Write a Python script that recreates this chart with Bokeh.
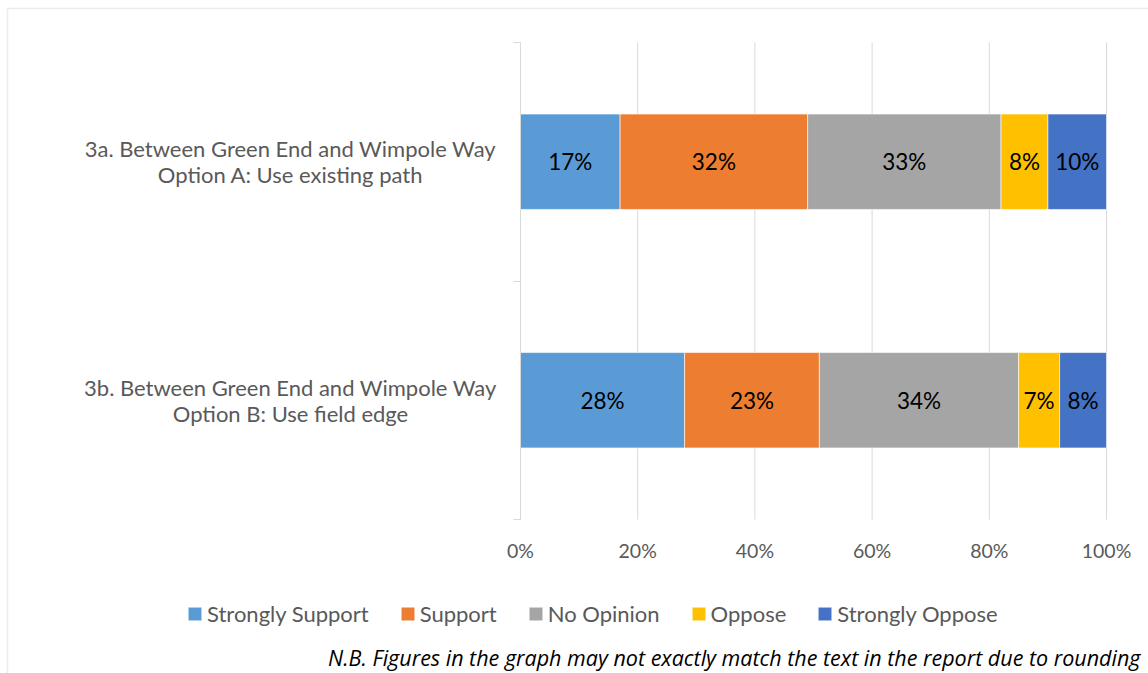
from bokeh.plotting import figure
from bokeh.models import (ColumnDataSource, FixedTicker, Label, LabelSet, BoxAnnotation,
                          Legend, LegendItem)
from bokeh.core.properties import value
from bokeh.embed import file_html
from bokeh.resources import INLINE

# ---------------- data ----------------
categories = ["3a. Between Green End and Wimpole Way\nOption A: Use existing path",
              "3b. Between Green End and Wimpole Way\nOption B: Use field edge"]
series = ["Strongly Support", "Support", "No Opinion", "Oppose", "Strongly Oppose"]
strongly_support = [17, 28]
support = [32, 23]
no_opinion = [33, 34]
oppose = [8, 7]
strongly_oppose = [10, 8]
x_ticks = [0, 20, 40, 60, 80, 100]
x_tick_labels = ["0%", "20%", "40%", "60%", "80%", "100%"]
footnote = "N.B. Figures in the graph may not exactly match the text in the report due to rounding"

# ---------------- style / layout ----------------
colors = ["#5B9BD5", "#ED7D31", "#A5A5A5", "#FFC000", "#4472C4"]
FONT = "Lato"
GRAY = "#595959"
W, H = 1148, 673
PLOT_L, PLOT_R, PLOT_T, PLOT_B = 520, 1106, 42, 519   # pixel box of the bar area
N = len(categories)
XMAX = 100.0

sx = (PLOT_R - PLOT_L) / XMAX          # px per percent
sy = (PLOT_B - PLOT_T) / N             # px per category


def px_x(px):
    return (px - PLOT_L) / sx


def px_y(py):
    return (PLOT_B - py) / sy


p = figure(width=W, height=H, output_backend="svg", toolbar_location=None,
           x_range=(px_x(0), px_x(W)), y_range=(px_y(H), px_y(0)),
           min_border=0, min_border_left=0, min_border_right=0,
           min_border_top=0, min_border_bottom=0)
p.outline_line_color = None
p.background_fill_color = "white"
p.border_fill_color = "white"
p.xgrid.visible = False
p.ygrid.visible = False

# bars (first category on top)
ypos = [N - 0.5 - i for i in range(N)]
vals = [strongly_support, support, no_opinion, oppose, strongly_oppose]
keys = ["s%d" % k for k in range(len(series))]
data = dict(y=ypos)
for k, v in zip(keys, vals):
    data[k] = v
src = ColumnDataSource(data)

# vertical gridlines spanning the category band
p.segment(x0=x_ticks, x1=x_ticks, y0=[0] * len(x_ticks), y1=[N] * len(x_ticks),
          line_color="#D9D9D9", line_width=1)

renderers = p.hbar_stack(keys, y="y", height=0.4, color=colors, source=src,
                         line_color="white", line_width=0.6)

# value labels in segments
lx, ly, lt = [], [], []
for i in range(N):
    cum = 0
    for v in vals:
        lx.append(cum + v[i] / 2)
        ly.append(ypos[i])
        lt.append(f"{v[i]}%")
        cum += v[i]
lsrc = ColumnDataSource(dict(x=lx, y=ly, t=lt))
p.add_layout(LabelSet(x="x", y="y", text="t", source=lsrc, text_align="center",
                      text_baseline="middle", text_font=value(FONT),
                      text_font_size=value("22.5px"), text_color="black"))

# axes positioned at data locations
p.xaxis.fixed_location = 0
p.xaxis.ticker = FixedTicker(ticks=x_ticks)
p.xaxis.major_label_overrides = {t: l for t, l in zip(x_ticks, x_tick_labels)}
p.xaxis.axis_line_color = None
p.xaxis.major_tick_line_color = None
p.xaxis.minor_tick_line_color = None
p.xaxis.major_label_standoff = 13
p.xaxis.major_label_text_font = FONT
p.xaxis.major_label_text_font_size = "19.5px"
p.xaxis.major_label_text_color = GRAY

p.yaxis.fixed_location = 0
p.yaxis.bounds = (0, N)
p.yaxis.ticker = FixedTicker(ticks=list(range(N + 1)))
p.yaxis.major_label_overrides = {t: "" for t in range(N + 1)}
p.yaxis.axis_line_color = "#D9D9D9"
p.yaxis.major_tick_line_color = "#D9D9D9"
p.yaxis.major_tick_in = 0
p.yaxis.major_tick_out = 7
p.yaxis.minor_tick_line_color = None

# category labels (centred multi-line)
for c, y in zip(categories, ypos):
    p.add_layout(Label(x=px_x(290), y=y, text=c, text_align="center", text_baseline="middle",
                       text_font=FONT, text_font_size="22px", text_color=GRAY,
                       text_line_height=0.98))

# legend
items = [LegendItem(label=s, renderers=[r]) for s, r in zip(series, renderers)]
legend = Legend(items=items, orientation="horizontal", location=(186, 46),
                label_text_font=FONT, label_text_font_size="22px", label_text_color=GRAY,
                glyph_width=17, glyph_height=17, spacing=30, label_standoff=4,
                border_line_color=None, background_fill_alpha=0, margin=0, padding=0)
p.add_layout(legend)

# footnote
p.add_layout(Label(x=px_x(1140), y=px_y(657), text=footnote, text_align="right",
                   text_baseline="middle", text_font="Open Sans", text_font_style="italic",
                   text_font_size="21.5px", text_color="black"))

# outer frame of the chart area
p.add_layout(BoxAnnotation(left=7, right=W + 50, top=8, bottom=H + 50,
                           left_units="canvas", right_units="canvas",
                           top_units="canvas", bottom_units="canvas",
                           fill_alpha=0, line_color="#BFBFBF", line_width=1.5))

open("out.html", "w").write(file_html(p, INLINE))
